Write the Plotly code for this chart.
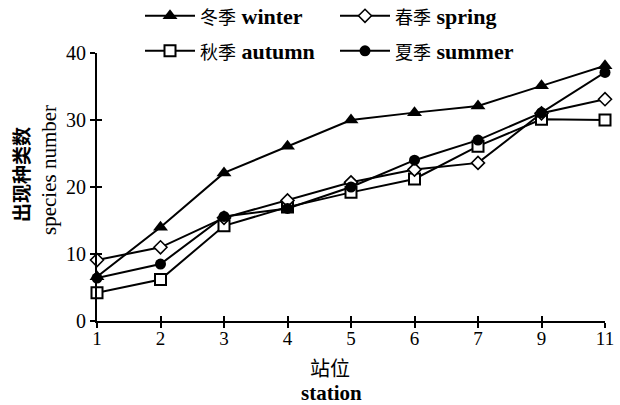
import plotly.graph_objects as go

# Sampling stations (categorical, evenly spaced)
stations = ["1", "2", "3", "4", "5", "6", "7", "9", "11"]

# Number of species recorded at each station, by season
winter = [6.6, 14.0, 22.1, 26.1, 30.0, 31.1, 32.1, 35.1, 38.1]
spring = [9.1, 11.0, 15.4, 18.0, 20.7, 22.6, 23.6, 31.0, 33.1]
autumn = [4.2, 6.2, 14.2, 17.0, 19.2, 21.2, 26.1, 30.1, 30.0]
summer = [6.4, 8.5, 15.6, 16.8, 20.0, 24.0, 27.0, 31.1, 37.1]

season_cn = ["冬季", "春季", "秋季", "夏季"]
season_en = ["winter", "spring", "autumn", "summer"]

SERIF = "Liberation Serif, Noto Sans CJK SC, serif"
BLACK = "#000000"

# plot-area geometry in pixels, used to place the free-standing titles
L, R, T, B = 97, 15, 53, 84
W, H = 620, 405
PW, PH = W - L - R, H - T - B


def px_x(px):
    return (px - L) / PW


def px_y(py):
    return (H - B - py) / PH


def legend_label(i):
    return (f'<span style="font-size:18px">{season_cn[i]}</span>'
            f' <b>{season_en[i]}</b>')


fig = go.Figure()

# autumn: open squares, white-filled so the lines stay behind them
fig.add_trace(go.Scatter(
    x=stations, y=autumn, name=legend_label(2), mode="lines+markers",
    line=dict(color=BLACK, width=2),
    marker=dict(symbol="square", size=11, color="white",
                line=dict(color=BLACK, width=2)),
    cliponaxis=False, legend="legend2", legendrank=3,
))
# spring: small open diamonds
fig.add_trace(go.Scatter(
    x=stations, y=spring, name=legend_label(1), mode="lines+markers",
    line=dict(color=BLACK, width=2),
    marker=dict(symbol="diamond", size=10, color="white",
                line=dict(color=BLACK, width=1.6)),
    cliponaxis=False, legend="legend", legendrank=2,
))
# summer: filled circles
fig.add_trace(go.Scatter(
    x=stations, y=summer, name=legend_label(3), mode="lines+markers",
    line=dict(color=BLACK, width=2),
    marker=dict(symbol="circle", size=11, color=BLACK),
    cliponaxis=False, legend="legend2", legendrank=4,
))
# winter: filled triangles
fig.add_trace(go.Scatter(
    x=stations, y=winter, name=legend_label(0), mode="lines+markers",
    line=dict(color=BLACK, width=2),
    marker=dict(symbol="triangle-up", size=13, color=BLACK),
    cliponaxis=False, legend="legend", legendrank=1,
))

# empty trace that activates the overlay axes used for inward tick marks
fig.add_trace(go.Scatter(x=[], y=[], xaxis="x2", yaxis="y2",
                         showlegend=False, hoverinfo="skip"))

axis_common = dict(
    showgrid=False, zeroline=False, showline=True,
    linecolor=BLACK, linewidth=2, tickcolor=BLACK, tickwidth=2,
)

legend_common = dict(
    orientation="h", xanchor="left", yanchor="middle",
    entrywidth=130, entrywidthmode="pixels", itemwidth=50,
    font=dict(family=SERIF, size=22, color=BLACK),
    bgcolor="rgba(0,0,0,0)", borderwidth=0, traceorder="normal",
)

annotations = [
    dict(text="站位", x=px_x(330), y=px_y(369),
         font=dict(family=SERIF, size=20, color=BLACK)),
    dict(text="<b>station</b>", x=px_x(331), y=px_y(393),
         font=dict(family=SERIF, size=21, color=BLACK)),
    dict(text="<b>出现种类数</b>", x=px_x(22), y=px_y(175), textangle=-90,
         font=dict(family=SERIF, size=19, color=BLACK)),
    dict(text="species number", x=px_x(49), y=px_y(170), textangle=-90,
         font=dict(family=SERIF, size=21, color=BLACK)),
]
for a in annotations:
    a.update(xref="paper", yref="paper", showarrow=False,
             xanchor="center", yanchor="middle")

fig.update_layout(
    width=W, height=H,
    margin=dict(l=L, r=R, t=T, b=B, autoexpand=False),
    paper_bgcolor="white", plot_bgcolor="white",
    font=dict(family=SERIF, size=17, color=BLACK),
    xaxis=dict(
        **axis_common, type="category", range=[0, 8],
        ticks="outside", ticklen=5, ticklabelstandoff=-6,
        tickfont=dict(family=SERIF, size=19, color=BLACK),
    ),
    yaxis=dict(
        **axis_common, range=[0, 40], tickvals=[0, 10, 20, 30, 40],
        ticks="outside", ticklen=5,
        tickfont=dict(family=SERIF, size=20, color=BLACK),
    ),
    xaxis2=dict(
        overlaying="x", anchor="y2", type="category", range=[0, 8],
        categoryarray=stations, categoryorder="array",
        tickvals=stations, showticklabels=False, ticks="inside", ticklen=5,
        tickcolor=BLACK, tickwidth=2, showgrid=False, zeroline=False,
        showline=False,
    ),
    yaxis2=dict(
        overlaying="y", anchor="x2", range=[0, 40],
        tickvals=[0, 10, 20, 30, 40], showticklabels=False,
        ticks="inside", ticklen=5, tickcolor=BLACK, tickwidth=2,
        showgrid=False, zeroline=False, showline=False,
    ),
    legend=dict(**legend_common, x=px_x(140), y=px_y(16)),
    legend2=dict(**legend_common, x=px_x(140), y=px_y(51)),
    annotations=annotations,
    showlegend=True,
)

fig.write_html("out.html")
